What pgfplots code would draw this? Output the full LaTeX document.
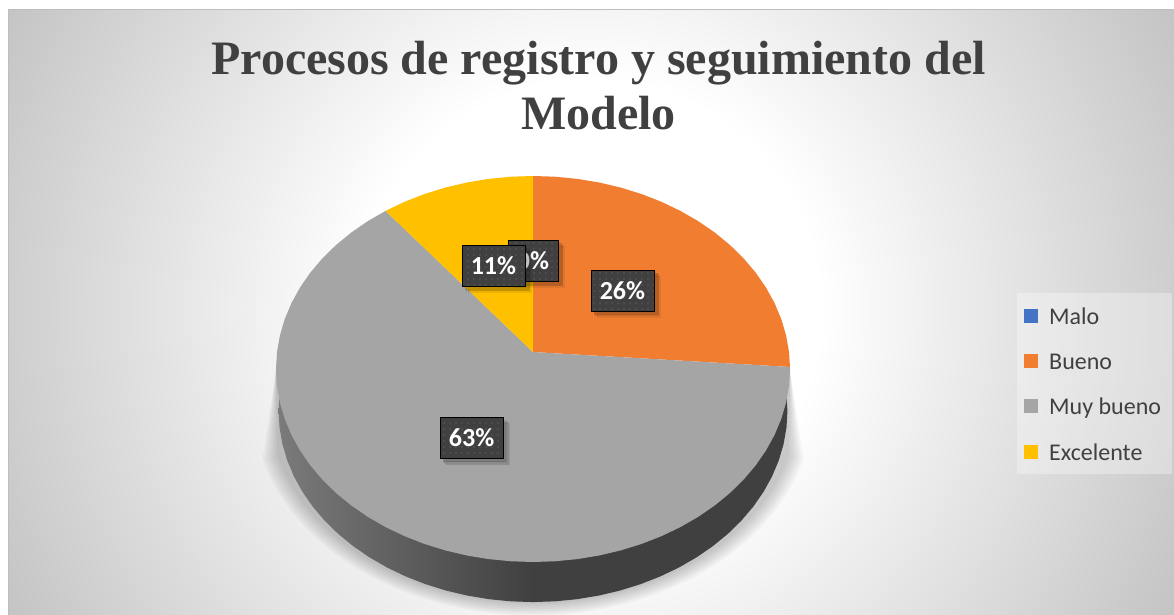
\documentclass[border=0pt]{standalone}
\usepackage{fontspec}
\setmainfont{Carlito}
\newfontfamily\titlefont{Liberation Serif}
\usepackage{pgfplots}
\usepackage{pgfplotstable}
\pgfplotsset{compat=1.18}
\usetikzlibrary{shadows,patterns.meta}
\definecolor{cBlue}{HTML}{4472C4}
\definecolor{cOrange}{HTML}{F07D30}
\definecolor{cGray}{HTML}{A5A5A5}
\definecolor{cYellow}{HTML}{FFC000}
\definecolor{cDark}{HTML}{404040}
\definecolor{cEdge}{HTML}{BEBEBE}
\pgfdeclareradialshading{chartbg}{\pgfpoint{0bp}{0bp}}{color(0bp)=(white); color(8.2bp)=(white); color(25bp)=(cEdge); color(50bp)=(cEdge)}
\pgfplotstableread{
a r k
169.8 1.016 0
195 1 1
200 1 1
205 1 1
210 1 1
215 1 1
220 1 1
225 1 1
230 1 1
235 1 1
240 1 1
245 1 1
250 1 1
255 1 1
260 1 1
265 1 1
270 1 1
275 1 1
280 1 1
285 1 1
290 1 1
295 1 1
300 1 1
305 1 1
310 1 1
315 1 1
320 1 1
325 1 1
330 1 1
335 1 1
340 1 1
345 1 1
10.2 1.016 0
}\shadowtab
\begin{document}
\begin{tikzpicture}
\useasboundingbox (0pt,0pt) rectangle (1174pt,615pt);
\fill[white] (0pt,0pt) rectangle (1174pt,615pt);
\begin{scope}
\clip (8pt,0pt) rectangle (1174pt,605pt);
\shade[shading=chartbg] (590pt,305pt) circle [radius=700pt];
\end{scope}
\draw[cEdge,line width=1pt] (8pt,0pt) -- (8pt,605pt) -- (1174pt,605pt);
\fill[white,opacity=0.32] (1017pt,141pt) rectangle (1172pt,322pt);
\begin{axis}[
  at={(0pt,0pt)},anchor=south west,
  scale only axis,width=1174pt,height=615pt,
  xmin=-2.0739,xmax=2.4942,ymin=-1.2746,ymax=1.9119,
  hide axis,
  title={Procesos de registro y seguimiento del\\Modelo},
  title style={at={(rel axis cs:0.5098,0.923)},anchor=north,align=center,
    font={\titlefont\bfseries\fontsize{48}{55}\selectfont},text=cDark,inner sep=0pt},
  legend style={at={(axis cs:1.9105,0.322)},anchor=north west,
    draw=none,fill=none,
    inner sep=0pt,
    row sep=22.4pt,
    font={\fontsize{24}{26}\selectfont},text=cDark,
    nodes={inner sep=0pt,text height=17pt,text depth=6pt},
    /tikz/every odd column/.append style={column sep=11pt}},
  legend cell align=left,
  legend image code/.code={\fill[#1] (0pt,-4pt) rectangle (14pt,10pt);},
]
\addlegendimage{fill=cBlue,draw=none}
\addlegendimage{fill=cOrange,draw=none}
\addlegendimage{fill=cGray,draw=none}
\addlegendimage{fill=cYellow,draw=none}

% soft shadow under the pie
\addplot[forget plot,data cs=polar,draw=none,fill=black,fill opacity=0.03,yshift=-36pt] table[x=a,y expr=\thisrow{r}+\thisrow{k}*0.09] {\shadowtab} -- cycle;
\addplot[forget plot,data cs=polar,draw=none,fill=black,fill opacity=0.03,yshift=-36pt] table[x=a,y expr=\thisrow{r}+\thisrow{k}*0.08] {\shadowtab} -- cycle;
\addplot[forget plot,data cs=polar,draw=none,fill=black,fill opacity=0.03,yshift=-36pt] table[x=a,y expr=\thisrow{r}+\thisrow{k}*0.07] {\shadowtab} -- cycle;
\addplot[forget plot,data cs=polar,draw=none,fill=black,fill opacity=0.03,yshift=-36pt] table[x=a,y expr=\thisrow{r}+\thisrow{k}*0.06] {\shadowtab} -- cycle;
\addplot[forget plot,data cs=polar,draw=none,fill=black,fill opacity=0.03,yshift=-36pt] table[x=a,y expr=\thisrow{r}+\thisrow{k}*0.05] {\shadowtab} -- cycle;
\addplot[forget plot,data cs=polar,draw=none,fill=black,fill opacity=0.03,yshift=-36pt] table[x=a,y expr=\thisrow{r}+\thisrow{k}*0.04] {\shadowtab} -- cycle;
\addplot[forget plot,data cs=polar,draw=none,fill=black,fill opacity=0.03,yshift=-36pt] table[x=a,y expr=\thisrow{r}+\thisrow{k}*0.03] {\shadowtab} -- cycle;

% side wall
\addplot[forget plot,data cs=polar,draw=none,left color=black!52,right color=cDark,middle color=cDark,yshift=-42pt] coordinates {
(170,.99)(175,.99)(180,.99)(185,.99)(190,.99)(195,.99)(200,.99)(205,.99)(210,.99)(215,.99)(220,.99)(225,.99)(230,.99)(235,.99)(240,.99)(245,.99)(250,.99)(255,.99)(260,.99)(265,.99)(270,.99)(275,.99)(280,.99)(285,.99)(290,.99)(295,.99)(300,.99)(305,.99)(310,.99)(315,.99)(320,.99)(325,.99)(330,.99)(335,.99)(340,.99)(345,.99)(350,.99)(355,.99)(360,.99)(365,.99)(370,.99)
} -- cycle;

% Bueno 26 %
\addplot[forget plot,data cs=polar,draw=none,fill=cOrange] coordinates {
(90,.088)(90,1)(85,1)(80,1)(75,1)(70,1)(65,1)(60,1)(55,1)(50,1)(45,1)(40,1)(35,1)(30,1)(25,1)(20,1)(15,1)(10,1)(5,1)(0.6,1)
} -- cycle;
% Muy bueno 63 %
\addplot[forget plot,data cs=polar,draw=none,fill=cGray] coordinates {
(90,.088)(0.6,1)(0,1)(-5,1)(-10,1)(-15,1)(-20,1)(-25,1)(-30,1)(-35,1)(-40,1)(-45,1)(-50,1)(-55,1)(-60,1)(-65,1)(-70,1)(-75,1)(-80,1)(-85,1)(-90,1)(-95,1)(-100,1)(-105,1)(-110,1)(-115,1)(-120,1)(-125,1)(-130,1)(-135,1)(-140,1)(-145,1)(-150,1)(-155,1)(-160,1)(-165,1)(-170,1)(-175,1)(-180,1)(-185,1)(-190,1)(-195,1)(-200,1)(-205,1)(-210,1)(-215,1)(-220,1)(-225,1)(-230,1)(-235,1)
} -- cycle;
% Excelente 11 %
\addplot[forget plot,data cs=polar,draw=none,fill=cYellow] coordinates {
(90,.088)(125,1)(120,1)(115,1)(110,1)(105,1)(100,1)(95,1)(90,1)
} -- cycle;

% data labels
\addplot[forget plot,only marks,mark=none,point meta=explicit symbolic,
  nodes near coords,
  every node near coord/.append style={
    anchor=center,draw=none,fill=cDark,text=white,
    font={\bfseries\fontsize{26}{30}\selectfont},
    minimum height=41pt,inner ysep=0pt,inner xsep=9pt,
    drop shadow={shadow xshift=6pt,shadow yshift=-6pt,opacity=0.07,fill=black},
    drop shadow={shadow xshift=4.5pt,shadow yshift=-4.5pt,opacity=0.09,fill=black},
    drop shadow={shadow xshift=3pt,shadow yshift=-3pt,opacity=0.1,fill=black},
    postaction={pattern={Dots[distance=6pt,radius=0.7pt]},pattern color=white!28!cDark}}
] coordinates {
(0.348,0.407) [26\%]
(-0.239,-0.358) [63\%]
(0,0.562) [0\%]
(-0.154,0.536) [11\%]
};
\legend{Malo,Bueno,Muy bueno,Excelente}
\end{axis}
\end{tikzpicture}
\end{document}
